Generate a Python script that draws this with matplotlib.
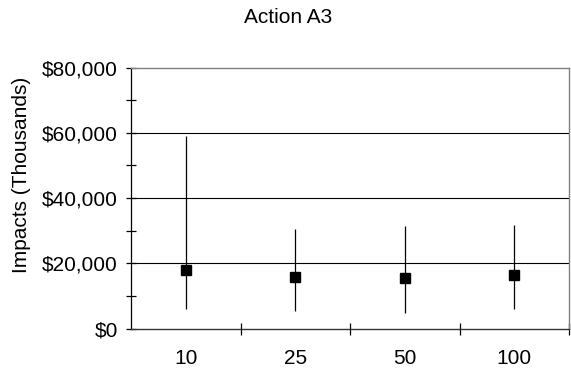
import matplotlib
matplotlib.use("Agg")
import matplotlib.pyplot as plt
from matplotlib.ticker import FuncFormatter, MultipleLocator

plt.rcParams['font.family'] = ['Liberation Sans', 'DejaVu Sans']

categories = ['10', '25', '50', '100']
mean_vals = [17.8, 15.7, 15.5, 16.4]   # in thousands of the axis units
low_vals = [5.9, 5.3, 4.8, 5.9]
high_vals = [59.0, 30.4, 31.4, 31.7]

scale = 1000
means = [v * scale for v in mean_vals]
lows = [v * scale for v in low_vals]
highs = [v * scale for v in high_vals]

fs = 15

fig = plt.figure(figsize=(5.71, 3.73), dpi=100)
ax = fig.add_axes([131 / 571, 1 - 328.5 / 373, 438 / 571, 261 / 373])

x = list(range(len(categories)))
yerr = [[m - l for m, l in zip(means, lows)], [h - m for m, h in zip(means, highs)]]
ax.errorbar(x, means, yerr=yerr, fmt='s', color='black', markersize=7.2,
            elinewidth=0.9, capsize=0, zorder=3)

ax.set_xlim(-0.5, len(categories) - 0.5)
ax.set_ylim(0, 80000)

# gridlines
for g in [20000, 40000, 60000]:
    ax.axhline(g, color='black', lw=0.8, zorder=1)

ax.yaxis.set_major_locator(MultipleLocator(20000))
ax.yaxis.set_minor_locator(MultipleLocator(10000))
ax.yaxis.set_major_formatter(FuncFormatter(lambda v, p: f"${v:,.0f}"))
ax.tick_params(axis='y', which='both', direction='inout', length=7, width=0.9,
               labelsize=fs, pad=6)

ax.set_xticks(x)
ax.set_xticklabels(categories)
ax.set_xticks([i + 0.5 for i in x], minor=True)
ax.tick_params(axis='x', which='major', length=0, labelsize=fs, pad=15)
ax.tick_params(axis='x', which='minor', direction='inout', length=8, width=0.9)

for side in ['top', 'right']:
    ax.spines[side].set_color('#808080')
    ax.spines[side].set_linewidth(1.0)
ax.spines['left'].set_linewidth(0.9)
ax.spines['bottom'].set_linewidth(1.0)
ax.spines['bottom'].set_color('#333333')

ax.set_ylabel('Impacts (Thousands)', fontsize=fs)
ax.yaxis.set_label_coords(31 / 571, 198 / 373, transform=fig.transFigure)
fig.text(288.5 / 571, 1 - 17.5 / 373, 'Action A3', ha='center', va='center', fontsize=fs)

fig.savefig('out.png', dpi=100)
